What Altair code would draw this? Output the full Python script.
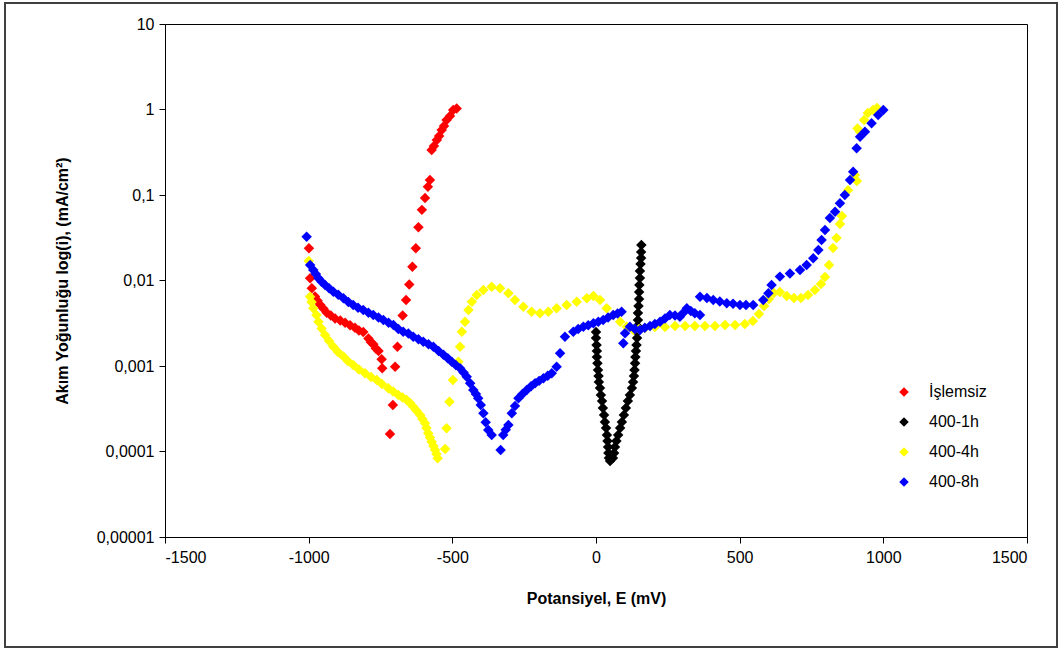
import altair as alt
import pandas as pd

SERIES = ["İşlemsiz", "400-1h", "400-4h", "400-8h"]
COLORS = ["#ff0000", "#000000", "#ffff00", "#0000ff"]

# Potansiyel E (mV) and current density i (mA/cm2)
E_red = [-999, -995, -989, -978, -969, -960, -949, -937, -923, -908, -890, -873, -856, -839,
         -825, -810, -792, -783, -775, -766, -757, -746, -744,
         -717, -707, -699, -691, -673, -661, -650, -639, -627, -618, -606, -595, -585, -578,
         -572, -564, -554, -546, -537, -529, -520, -508, -497, -485]
i_red = [0.0238, 0.0106, 0.0081, 0.0065, 0.0058, 0.0052, 0.0047, 0.0042, 0.0039, 0.0036, 0.0034,
         0.0032, 0.0030, 0.0028, 0.0026, 0.0025, 0.0021, 0.0019, 0.0018, 0.0016, 0.0015, 0.0012,
         0.00094,
         0.00016, 0.00035, 0.00098, 0.00168, 0.0039, 0.0059, 0.009, 0.0145, 0.0238, 0.042, 0.067,
         0.092, 0.125, 0.15, 0.336, 0.374, 0.44, 0.49, 0.575, 0.64, 0.754, 0.84, 0.987, 1.03]

E_blk = [0, 0, 2, 3, 3, 5, 7, 9, 10, 14, 17, 21, 24, 28, 31, 35, 38, 40, 42, 43, 45, 49,
         59, 63, 66, 71, 77, 84, 90, 97, 104, 111, 118, 125, 129, 132, 134, 136, 137, 139, 141,
         143, 143, 144, 146, 146, 148, 150, 150, 151, 153, 153, 155, 157, 157, 158]
i_blk = [0.0025, 0.00212, 0.00176, 0.0015, 0.00127, 0.00108, 0.000898, 0.000764, 0.00065,
         0.000553, 0.000458, 0.00039, 0.000323, 0.000267, 0.000221, 0.000188, 0.000156,
         0.000133, 0.000113, 0.000096, 0.0000839, 0.0000774,
         0.0000839, 0.000096, 0.000113, 0.000133, 0.000156, 0.000188, 0.000221, 0.000267,
         0.000323, 0.00039, 0.000458, 0.000553, 0.00065, 0.000764, 0.000898, 0.00108, 0.00127,
         0.0015, 0.00176, 0.00212, 0.0025, 0.00294, 0.00345, 0.00417, 0.00503, 0.00608,
         0.00733, 0.00886, 0.0107, 0.0129, 0.0156, 0.0183, 0.0216, 0.026]

E_yel = [-1000, -995, -990, -984, -973, -966, -955, -943, -929, -914, -898, -879, -863, -845,
         -825, -804, -783, -763, -745, -723, -706, -688, -673, -659, -647, -636, -625, -612,
         -604, -595, -590, -584, -578, -572, -566, -560, -555, -551,
         -525, -520, -510, -498, -479, -473, -467, -456, -444, -432, -415, -392, -363, -334,
         -305, -282, -253, -224, -195, -166, -137, -102, -67, -32, -9, 14, 37, 60, 84, 107,
         130, 150, 170, 205, 240, 275, 310, 344, 379, 414, 449, 484, 518, 546, 567, 585, 602,
         619, 640, 664, 689, 713, 738, 762, 783, 797, 811, 825, 837, 849, 856, 877, 901, 908,
         910, 919, 933, 946, 964, 978]
i_yel = [0.0169, 0.00647, 0.0056, 0.00473, 0.00395, 0.0033, 0.00275, 0.00231, 0.00196, 0.00168,
         0.00146, 0.00129, 0.00114, 0.00103, 0.00091, 0.000822, 0.000744, 0.000686, 0.000616,
         0.000549, 0.000504, 0.000458, 0.000428, 0.0004, 0.000369, 0.000334, 0.000302,
         0.000267, 0.00024, 0.000214, 0.000188, 0.000163, 0.000146, 0.00013, 0.000116,
         0.000104, 0.0000935, 0.0000832,
         0.000107, 0.000187, 0.000382, 0.000686, 0.00112, 0.00168, 0.00252, 0.0033, 0.00452,
         0.00565, 0.00677, 0.00774, 0.00846, 0.0081, 0.00708, 0.00591, 0.00494, 0.00432,
         0.00413, 0.00432, 0.00473, 0.00517, 0.00565, 0.00619, 0.00659, 0.00591, 0.00473,
         0.00395, 0.0033, 0.00288, 0.00264, 0.0027, 0.00278, 0.00286, 0.00286, 0.00294,
         0.00294, 0.00294, 0.00294, 0.00294, 0.00302, 0.00302, 0.0031, 0.00336, 0.00406,
         0.00503, 0.00608, 0.00714, 0.00733, 0.00659, 0.00624, 0.00624, 0.00677, 0.00774,
         0.0091, 0.011, 0.0152, 0.024, 0.0314, 0.0458, 0.0568, 0.114, 0.171, 0.146, 0.60,
         0.546, 0.754, 0.91, 0.987, 1.04]

E_blu = [-1007, -995, -984, -975, -966, -955, -943, -929, -914, -897, -879, -862, -845, -828,
         -810, -792, -775, -757, -740, -722, -705, -688, -671, -653, -636, -618, -601, -583,
         -566, -548, -531, -516, -502, -488, -473, -461, -450, -438, -427, -418, -410, -401,
         -392, -384, -375, -363, -332, -323, -314, -305, -293, -282, -270, -256, -241, -226,
         -212, -198, -183, -168, -154, -137, -125, -108, -79, -62, -44, -27, -9, 8, 25, 42, 60,
         75, 89, 95, 101, 118, 135, 153, 170, 188, 205, 223, 240, 257, 275, 292, 304, 316, 330,
         344, 362, 362, 386, 408, 431, 455, 477, 501, 522, 547, 582, 600, 611, 640, 675, 710,
         733, 756, 774, 785, 797, 814, 832, 849, 866, 884, 895, 907, 919, 936, 959, 982, 1000]
i_blu = [0.0325, 0.0152, 0.0133, 0.0119, 0.0106, 0.0097, 0.00886, 0.0081, 0.0074, 0.0068,
         0.00619, 0.0056, 0.00517, 0.0048, 0.00452, 0.0042, 0.00395, 0.0037, 0.00345, 0.0032,
         0.00302, 0.0027, 0.00252, 0.0024, 0.0022, 0.00205, 0.00192, 0.0018, 0.00168, 0.0015,
         0.00135, 0.00123, 0.00112, 0.00103, 0.00094, 0.00084, 0.00075, 0.00063, 0.000524,
         0.00047, 0.000419, 0.00035, 0.00028, 0.00022, 0.000178, 0.000156, 0.000104, 0.000156,
         0.00018, 0.000204, 0.00028, 0.00034, 0.000419, 0.00047, 0.000524, 0.00058, 0.000628,
         0.00067, 0.000718, 0.00077, 0.000822, 0.00098, 0.00141, 0.0022, 0.00252, 0.0027,
         0.00288, 0.003, 0.00316, 0.0033, 0.00345, 0.0037, 0.00395, 0.0041, 0.00432, 0.00184,
         0.00241, 0.00288, 0.0027, 0.00264, 0.0028, 0.00294, 0.0031, 0.0033, 0.0036, 0.00395,
         0.0039, 0.00377, 0.0042, 0.00473, 0.0044, 0.00413, 0.00395, 0.00647, 0.00624,
         0.00591, 0.00568, 0.00541, 0.00534, 0.00517, 0.00517, 0.00517, 0.00591, 0.00708,
         0.00886, 0.0111, 0.0121, 0.0133, 0.0152, 0.0182, 0.0227, 0.0298, 0.039, 0.0538,
         0.0638, 0.08, 0.1, 0.15, 0.187, 0.352, 0.481, 0.55, 0.69, 0.863, 0.987]

X_TICKS = [-1500, -1000, -500, 0, 500, 1000, 1500]
Y_TICKS = [0.00001, 0.0001, 0.001, 0.01, 0.1, 1, 10]

frames = []
for name, es, vs in zip(SERIES, [E_red, E_blk, E_yel, E_blu], [i_red, i_blk, i_yel, i_blu]):
    frames.append(pd.DataFrame({"E": es, "i": vs, "seri": name}))
df = pd.concat(frames, ignore_index=True)
df["ord"] = range(len(df))

FONT = "Liberation Sans"

points = alt.Chart(df).mark_point(
    shape="diamond", filled=True, size=110, opacity=1, strokeWidth=0
).encode(
    x=alt.X("E:Q", title="Potansiyel, E (mV)",
            scale=alt.Scale(domain=[-1500, 1500], nice=False, zero=False),
            axis=alt.Axis(values=X_TICKS, labelExpr="'' + datum.value", grid=False,
                          tickSize=6, labelPadding=6, titlePadding=25)),
    y=alt.Y("i:Q", title="Akım Yoğunluğu log(i), (mA/cm²)",
            scale=alt.Scale(type="log", domain=[0.00001, 10], nice=False),
            axis=alt.Axis(values=Y_TICKS,
                          labelExpr="replace(format(datum.value, '.5~f'), '.', ',')",
                          grid=False, tickSize=6, labelPadding=5, titlePadding=26)),
    color=alt.Color("seri:N", scale=alt.Scale(domain=SERIES, range=COLORS),
                    legend=alt.Legend(title=None, orient="none", legendX=731, legendY=360,
                                      symbolType="diamond", symbolSize=90,
                                      labelFont=FONT, labelFontSize=16, labelColor="#000",
                                      labelOffset=17, rowPadding=14, padding=0)),
    order=alt.Order("ord:Q"),
)

frame = alt.Chart(alt.Data(values=[{}])).mark_rect(
    fillOpacity=0, stroke="#404040", strokeWidth=2
).encode(x=alt.value(-160), x2=alt.value(892), y=alt.value(-21), y2=alt.value(623))

chart = alt.layer(frame, points).properties(
    width=862, height=513,
    autosize=alt.AutoSizeParams(type="none"),
    padding={"left": 165, "top": 24, "right": 37, "bottom": 115},
    background="white",
).configure_view(stroke="black", strokeWidth=1).configure_axis(
    domainColor="black", tickColor="black", labelColor="black", titleColor="black",
    labelFont=FONT, labelFontSize=16, titleFont=FONT, titleFontSize=16,
    titleFontWeight="bold", domainWidth=1, tickWidth=1,
)

chart.save("out.html", embed_options={"renderer": "svg", "actions": False})
